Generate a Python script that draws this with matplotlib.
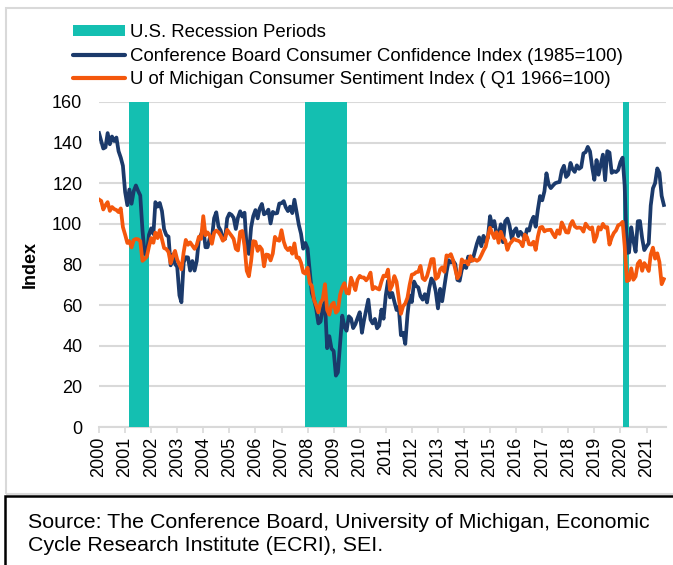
import numpy as np
import pandas as pd
import matplotlib
matplotlib.use("Agg")
import matplotlib.pyplot as plt
import matplotlib.dates as mdates
from matplotlib.patches import Rectangle, Patch
from matplotlib.lines import Line2D

plt.rcParams['font.family'] = ['Liberation Sans', 'DejaVu Sans']

# ---------------- data ----------------
start_month = "2000-01-01"

conference_board = [
    144.7, 140.8, 137.1, 137.7, 144.7, 139.2, 143.0, 140.8, 142.5, 135.8, 132.6, 128.6,  # 2000
    115.7, 109.2, 116.9, 109.9, 116.1, 118.9, 116.3, 114.0, 97.0, 85.3, 84.9, 94.6,      # 2001
    97.8, 95.0, 110.7, 108.5, 110.3, 106.3, 97.4, 94.5, 93.7, 79.6, 84.9, 80.3,          # 2002
    78.8, 64.8, 61.4, 81.0, 83.6, 83.5, 77.0, 81.7, 77.0, 81.7, 92.5, 94.8,              # 2003
    97.7, 88.5, 88.5, 93.0, 93.1, 102.8, 105.7, 98.7, 96.7, 92.9, 92.6, 102.7,           # 2004
    105.1, 104.4, 103.0, 97.5, 103.1, 106.2, 103.6, 105.5, 87.5, 85.2, 98.3, 103.8,      # 2005
    106.8, 102.7, 107.5, 109.8, 104.7, 105.4, 107.0, 100.2, 105.9, 105.1, 105.3, 110.0,  # 2006
    110.2, 111.2, 108.2, 106.3, 108.5, 105.3, 111.9, 105.6, 99.5, 95.2, 87.8, 90.6,      # 2007
    87.9, 76.4, 65.9, 62.8, 58.1, 51.0, 51.9, 58.5, 61.4, 38.8, 44.7, 38.6,              # 2008
    37.4, 25.3, 26.9, 40.8, 54.8, 49.3, 47.4, 54.5, 53.4, 48.7, 50.6, 53.6,              # 2009
    56.5, 46.4, 52.3, 57.7, 62.7, 52.9, 51.0, 53.2, 48.6, 49.9, 57.8, 53.3,              # 2010
    64.8, 72.0, 63.8, 66.0, 61.7, 57.6, 59.2, 45.2, 46.4, 40.9, 55.2, 64.8,              # 2011
    61.5, 71.6, 69.5, 68.7, 64.4, 62.7, 65.4, 61.3, 68.4, 73.1, 71.5, 66.7,              # 2012
    58.4, 68.0, 61.9, 69.0, 76.2, 82.1, 81.0, 81.8, 80.2, 72.4, 72.0, 77.5,              # 2013
    79.4, 78.3, 83.9, 81.7, 82.2, 86.4, 90.3, 93.4, 89.0, 94.1, 91.0, 93.1,              # 2014
    103.8, 98.8, 101.4, 95.2, 94.6, 99.8, 91.0, 101.3, 102.6, 99.1, 92.6, 96.3,          # 2015
    97.8, 94.0, 96.1, 94.7, 92.4, 97.4, 96.7, 101.1, 103.5, 98.6, 107.1, 113.7,          # 2016
    111.6, 116.1, 124.9, 119.4, 117.6, 118.9, 120.0, 120.4, 120.6, 126.2, 128.6, 123.1,  # 2017
    124.3, 130.0, 127.0, 125.6, 128.8, 127.1, 127.9, 134.7, 135.3, 137.9, 135.7, 128.1,  # 2018
    121.7, 131.4, 124.2, 129.2, 134.1, 121.5, 135.8, 135.1, 125.1, 125.9, 125.5, 126.5,  # 2019
    130.4, 132.6, 118.8, 85.7, 85.9, 98.3, 91.7, 86.3, 101.3, 101.4, 92.9, 87.1,         # 2020
    88.9, 90.4, 109.0, 117.5, 120.0, 127.3, 125.1, 113.8, 109.3,                         # 2021
]

michigan = [
    112.0, 111.3, 107.1, 109.2, 110.7, 106.4, 108.3, 107.3, 106.8, 105.8, 107.6, 98.4,   # 2000
    94.7, 90.6, 91.5, 88.4, 92.0, 92.6, 92.4, 91.5, 81.8, 82.7, 83.9, 88.8,              # 2001
    93.0, 90.7, 95.7, 93.0, 96.9, 92.4, 88.1, 87.6, 86.1, 80.6, 84.2, 86.7,              # 2002
    82.4, 79.9, 77.6, 86.0, 92.1, 89.7, 90.9, 89.3, 87.7, 89.6, 93.7, 92.6,              # 2003
    103.8, 94.4, 95.8, 94.2, 90.2, 95.6, 96.7, 95.9, 94.2, 91.7, 92.8, 97.1,             # 2004
    95.5, 94.1, 92.6, 87.7, 86.9, 96.0, 96.5, 89.1, 76.9, 74.2, 81.6, 91.5,              # 2005
    91.2, 86.7, 88.9, 87.4, 79.1, 84.9, 84.7, 82.0, 85.4, 93.6, 92.1, 91.7,              # 2006
    96.9, 91.3, 88.4, 87.1, 88.3, 85.3, 90.4, 83.4, 83.4, 80.9, 76.1, 75.5,              # 2007
    78.4, 70.8, 69.5, 62.6, 59.8, 56.4, 61.2, 63.0, 70.3, 57.6, 55.3, 60.1,              # 2008
    61.2, 56.3, 57.3, 65.1, 68.7, 70.8, 66.0, 65.7, 73.5, 70.6, 67.4, 72.5,              # 2009
    74.4, 73.6, 73.6, 72.2, 73.6, 76.0, 67.8, 68.9, 68.2, 67.7, 71.6, 74.5,              # 2010
    74.2, 77.5, 67.5, 69.8, 74.3, 71.5, 63.7, 55.7, 59.5, 60.8, 63.7, 69.9,              # 2011
    75.0, 75.3, 76.2, 76.4, 79.3, 73.2, 72.3, 74.3, 78.3, 82.6, 82.7, 72.9,              # 2012
    73.8, 77.6, 78.6, 76.4, 84.5, 84.1, 85.1, 82.1, 77.5, 73.2, 75.1, 82.5,              # 2013
    81.2, 81.6, 80.0, 84.1, 81.9, 82.5, 81.8, 82.5, 84.6, 86.9, 88.8, 93.6,              # 2014
    98.1, 95.4, 93.0, 95.9, 90.7, 96.1, 93.1, 91.9, 87.2, 90.0, 91.3, 92.6,              # 2015
    92.0, 91.7, 91.0, 89.0, 94.7, 93.5, 90.0, 89.8, 91.2, 87.2, 93.8, 98.2,              # 2016
    98.5, 96.3, 96.9, 97.0, 97.1, 95.0, 93.4, 96.8, 95.1, 100.7, 98.5, 95.9,             # 2017
    95.7, 99.7, 101.4, 98.8, 98.0, 98.2, 97.9, 96.2, 100.1, 98.6, 97.5, 98.3,            # 2018
    91.2, 93.8, 98.4, 97.2, 100.0, 98.2, 98.4, 89.8, 93.2, 95.5, 96.8, 99.3,             # 2019
    99.8, 101.0, 89.1, 71.8, 72.3, 78.1, 72.5, 74.1, 80.4, 81.8, 76.9, 80.7,             # 2020
    79.0, 76.8, 84.9, 88.3, 82.9, 85.5, 81.2, 70.3, 72.8,                                # 2021
]

recession_starts = ["2001-03-01", "2007-12-01", "2020-02-01"]
recession_ends = ["2001-12-01", "2009-07-01", "2020-05-01"]

series_labels = [
    "U.S. Recession Periods",
    "Conference Board Consumer Confidence Index (1985=100)",
    "U of Michigan Consumer Sentiment Index ( Q1 1966=100)",
]
y_ticks = [0, 20, 40, 60, 80, 100, 120, 140, 160]
y_label = "Index"
source_text = ("Source: The Conference Board, University of Michigan, Economic\n"
               "Cycle Research Institute (ECRI), SEI.")

# ---------------- styles ----------------
TEAL = "#14BFB1"
NAVY = "#1B3A6B"
ORANGE = "#F4570C"
GRID = "#D9D9D9"

W, H = 673, 565
fig = plt.figure(figsize=(W / 100, H / 100), dpi=100)

ax_left, ax_right, ax_top, ax_bottom = 99, 666, 102, 427
ax = fig.add_axes([ax_left / W, (H - ax_bottom) / H,
                   (ax_right - ax_left) / W, (ax_bottom - ax_top) / H])

dates_cb = pd.date_range(start_month, periods=len(conference_board), freq="MS")
dates_um = pd.date_range(start_month, periods=len(michigan), freq="MS")

for s, e in zip(recession_starts, recession_ends):
    ax.axvspan(pd.Timestamp(s), pd.Timestamp(e), color=TEAL, lw=0, zorder=2)

ax.plot(dates_cb, conference_board, color=NAVY, lw=2.7, zorder=3,
        solid_joinstyle="round")
ax.plot(dates_um, michigan, color=ORANGE, lw=2.7, zorder=4,
        solid_joinstyle="round")

ax.set_xlim(pd.Timestamp("2000-01-01"), pd.Timestamp("2021-10-01"))
ax.set_ylim(0, 160)
ax.set_yticks(y_ticks)
ax.yaxis.grid(True, color=GRID, lw=1.5, zorder=1)
ax.set_axisbelow(True)

ax.xaxis.set_major_locator(mdates.YearLocator())
ax.xaxis.set_major_formatter(mdates.DateFormatter("%Y"))

for side in ["top", "right", "left"]:
    ax.spines[side].set_visible(False)
ax.spines["bottom"].set_color(GRID)
ax.spines["bottom"].set_linewidth(1.5)
ax.spines["bottom"].set_zorder(1.5)

ax.tick_params(axis="y", length=0, pad=12, labelsize=13, labelcolor="black")
ax.tick_params(axis="x", length=4, width=1.2, color=GRID, direction="out",
               pad=3, labelsize=13, labelrotation=90)
for lbl in ax.get_xticklabels():
    lbl.set_verticalalignment("top")

ax.set_ylabel(y_label, fontsize=13, fontweight="bold")
ax.yaxis.set_label_coords(-(ax_left - 39) / (ax_right - ax_left), 0.5)

# legend
handles = [
    Patch(facecolor=TEAL, edgecolor="none"),
    Line2D([], [], color=NAVY, lw=3.0, solid_capstyle="round"),
    Line2D([], [], color=ORANGE, lw=3.0, solid_capstyle="round"),
]
fig.legend(handles, series_labels, loc="upper left",
           bbox_to_anchor=(73 / W, 1 - 24 / H), frameon=False,
           fontsize=13.4, handlelength=2.8, handleheight=0.5,
           handletextpad=0.25, labelspacing=0.36, borderaxespad=0,
           borderpad=0)

# outer gray frame and source box
fig.add_artist(Rectangle((6 / W, (H - 494) / H), 1.2, (494 - 8) / H,
                         transform=fig.transFigure, fill=False,
                         ec=GRID, lw=1.5))
fig.add_artist(Rectangle((5 / W, -0.2), 1.2, (H - 496) / H + 0.2,
                         transform=fig.transFigure, fill=False,
                         ec="black", lw=1.8))
fig.text(28 / W, 1 - 513 / H, source_text, fontsize=15.4, va="top",
         ha="left", linespacing=1.25)

fig.savefig("out.png", dpi=100)
